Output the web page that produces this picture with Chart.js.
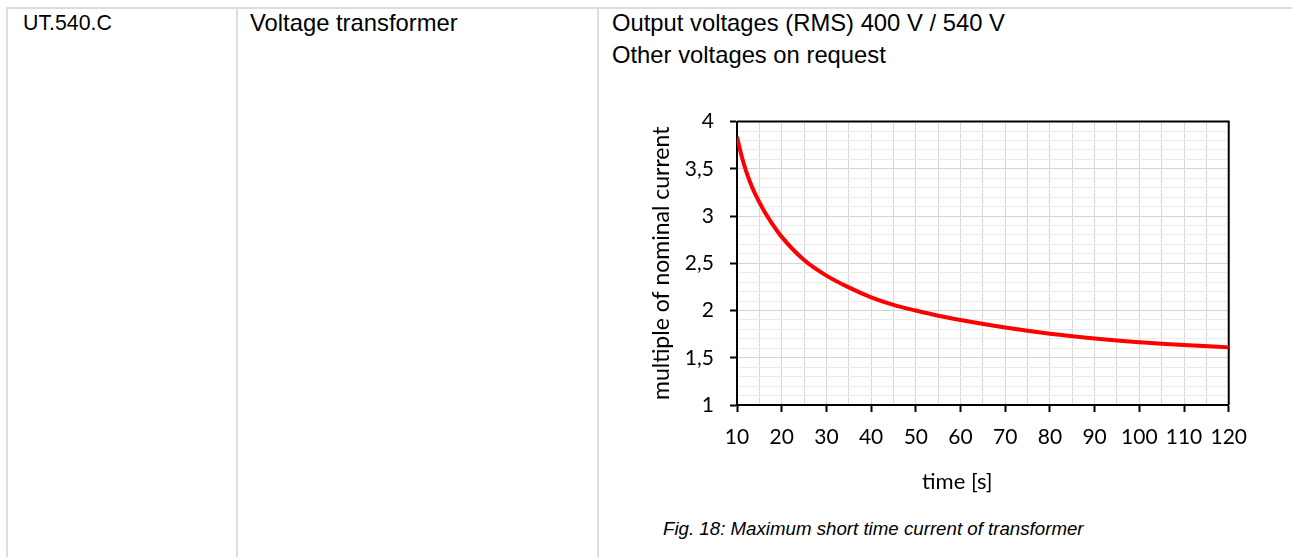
<!DOCTYPE html>
<html>
<head>
<meta charset="utf-8">
<script src="https://cdn.jsdelivr.net/npm/chart.js@4/dist/chart.umd.min.js"></script>
<style>
  html, body { margin: 0; padding: 0; background: #fff; }
  body { width: 1292px; height: 557px; position: relative; overflow: hidden; font-family: "Liberation Sans", Arial, sans-serif; color: #000; }
  .rule { position: absolute; background: #dcdcdc; }
  .cell { position: absolute; font-size: 23.8px; line-height: 24px; white-space: nowrap; }
  .caption { position: absolute; font-style: italic; font-size: 18.7px; line-height: 19px; white-space: nowrap; }
  #plot { position: absolute; left: 620px; top: 93px; width: 640px; height: 410px; }
  #plot canvas { display: block; }
</style>
</head>
<body>
  <div class="rule" style="left:6px; top:7px; width:1286px; height:2px;"></div>
  <div class="rule" style="left:6px; top:7px; width:2px; height:550px;"></div>
  <div class="rule" style="left:236px; top:7px; width:2px; height:550px;"></div>
  <div class="rule" style="left:597px; top:7px; width:2px; height:550px;"></div>

  <div class="cell" style="left:23px; top:11px; font-size:21.3px;">UT.540.C</div>
  <div class="cell" style="left:250px; top:11px;">Voltage transformer</div>
  <div class="cell" style="left:612px; top:11px;">Output voltages (RMS) 400 V / 540 V</div>
  <div class="cell" style="left:612px; top:43px;">Other voltages on request</div>

  <div id="plot"><canvas id="chart" width="640" height="410"></canvas></div>

  <div class="caption" style="left:663px; top:519px;">Fig. 18: Maximum short time current of transformer</div>

<script>
// Short time current curve: time in seconds, current as a multiple of nominal
const timeSeconds = [10, 11, 12, 13, 14, 16, 18, 20, 25, 30, 35, 40, 45, 50, 55, 60, 70, 80, 90, 100, 110, 120];
const currentMultiple = [3.84, 3.64, 3.48, 3.35, 3.24, 3.06, 2.91, 2.78, 2.535, 2.37, 2.245, 2.14, 2.06, 2.00, 1.945, 1.90, 1.82, 1.755, 1.705, 1.665, 1.635, 1.61];

// Axis ranges and tick steps
const xRange = { min: 10, max: 120, step: 5, labelEvery: 10 };
const yRange = { min: 1, max: 4, step: 0.1, labelEvery: 0.5 };

const xTitle = 'time [s]';
const yTitle = 'multiple of nominal current';

const tickFont = { family: 'Lato', size: 21 };
const yTitleFont = { family: 'Lato', size: 23 };
const xTitleFont = '22px Lato';

function isMultiple(value, unit) {
  const r = value / unit;
  return Math.abs(r - Math.round(r)) < 1e-6;
}

// Black frame along the top and right edges of the plot area
const plotFrame = {
  id: 'plotFrame',
  beforeDatasetsDraw(chart) {
    const { ctx, chartArea: a } = chart;
    ctx.save();
    ctx.strokeStyle = '#000';
    ctx.lineWidth = 2;
    ctx.beginPath();
    ctx.moveTo(a.left, a.top);
    ctx.lineTo(a.right, a.top);
    ctx.lineTo(a.right, a.bottom);
    ctx.stroke();
    ctx.restore();
  }
};

// Horizontal axis title, set a little left of the plot centre
const xAxisTitle = {
  id: 'xAxisTitle',
  afterDraw(chart) {
    const { ctx, chartArea: a } = chart;
    ctx.save();
    ctx.font = xTitleFont;
    ctx.fillStyle = '#000';
    ctx.textAlign = 'center';
    ctx.textBaseline = 'middle';
    ctx.fillText(xTitle, a.left + 0.448 * (a.right - a.left), a.bottom + 77);
    ctx.restore();
  }
};

new Chart(document.getElementById('chart'), {
  type: 'line',
  data: {
    datasets: [{
      data: timeSeconds.map((t, i) => ({ x: t, y: currentMultiple[i] })),
      borderColor: '#ff0000',
      borderWidth: 4,
      pointRadius: 0,
      fill: false,
      cubicInterpolationMode: 'monotone'
    }]
  },
  options: {
    responsive: false,
    animation: false,
    events: [],
    layout: { padding: { top: 4, right: 30, bottom: 0, left: 0 } },
    plugins: { legend: { display: false }, tooltip: { enabled: false } },
    scales: {
      x: {
        type: 'linear',
        min: xRange.min,
        max: xRange.max,
        afterFit(scale) { scale.height = 98; },
        border: { color: '#000', width: 2 },
        grid: {
          color: '#d9d9d9',
          lineWidth: 1,
          tickLength: 7,
          tickColor: (c) => isMultiple(c.tick.value, xRange.labelEvery) ? '#000' : 'rgba(0,0,0,0)',
          tickWidth: 2
        },
        ticks: {
          stepSize: xRange.step,
          maxTicksLimit: 40,
          autoSkip: false,
          maxRotation: 0,
          padding: 13,
          color: '#000',
          font: tickFont,
          callback: (v) => isMultiple(v, xRange.labelEvery) ? String(Math.round(v)) : ''
        },
        title: { display: false }
      },
      y: {
        type: 'linear',
        min: yRange.min,
        max: yRange.max,
        afterFit(scale) { scale.width = 117; },
        border: { color: '#000', width: 2 },
        grid: {
          color: (c) => isMultiple(c.tick.value, yRange.labelEvery) ? '#d4d4d4' : '#ebebeb',
          lineWidth: 1,
          tickLength: 7,
          tickColor: (c) => isMultiple(c.tick.value, yRange.labelEvery) ? '#000' : 'rgba(0,0,0,0)',
          tickWidth: 2
        },
        ticks: {
          stepSize: yRange.step,
          maxTicksLimit: 40,
          autoSkip: false,
          padding: 16,
          color: '#000',
          font: tickFont,
          callback: (v) => isMultiple(v, yRange.labelEvery) ? String(Math.round(v * 10) / 10).replace('.', ',') : ''
        },
        title: { display: true, text: yTitle, color: '#000', font: yTitleFont, padding: { top: 28, bottom: 0 } }
      }
    }
  },
  plugins: [plotFrame, xAxisTitle]
});
</script>
</body>
</html>
